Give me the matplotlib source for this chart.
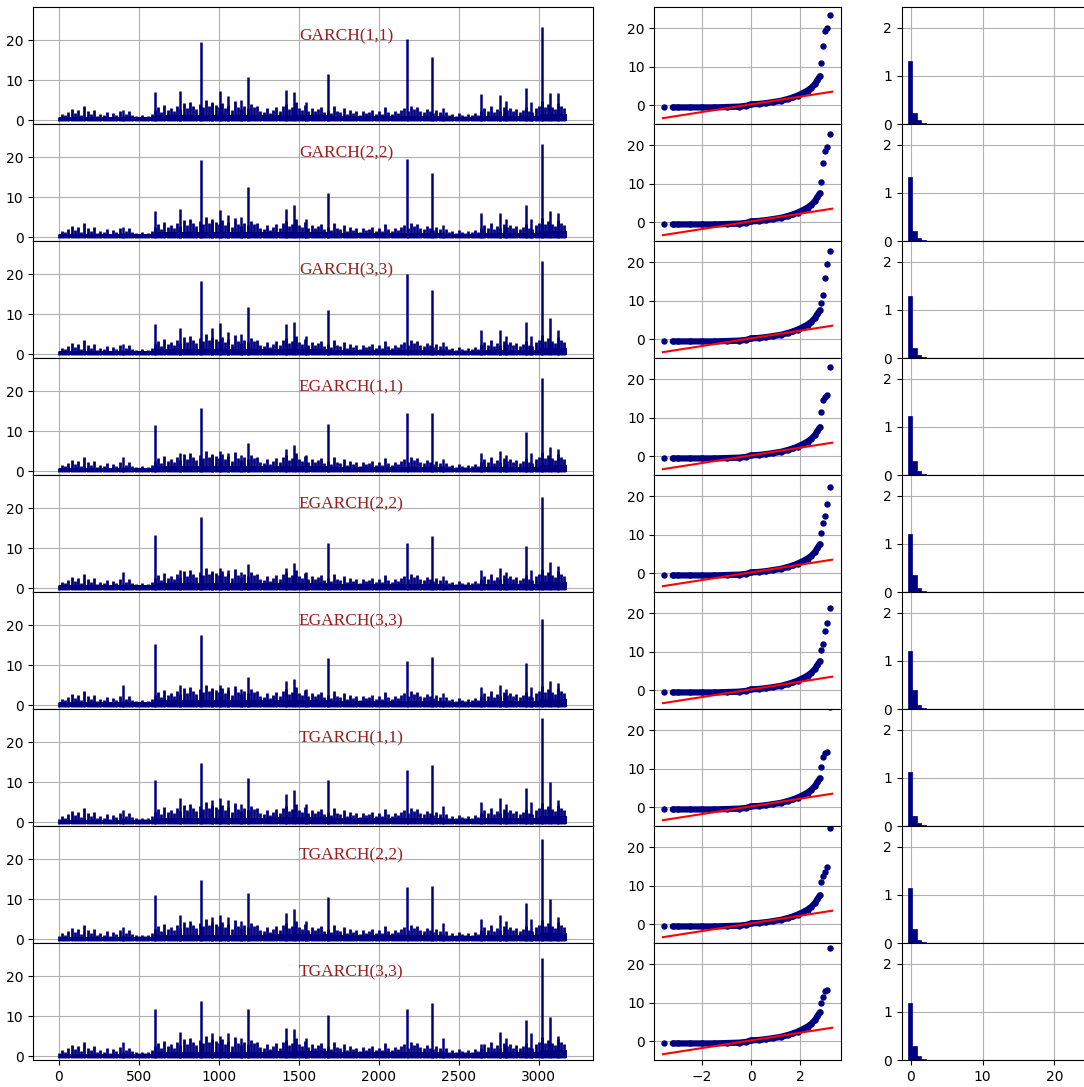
import numpy as np
import matplotlib.pyplot as plt

# nomes dos modelos (um por linha)
models = ['GARCH(1,1)', 'GARCH(2,2)', 'GARCH(3,3)',
          'EGARCH(1,1)', 'EGARCH(2,2)', 'EGARCH(3,3)',
          'TGARCH(1,1)', 'TGARCH(2,2)', 'TGARCH(3,3)']

n_obs = 3178

# ruido de fundo (pico local a cada 20 observacoes), comum a todos os modelos
minor_step = 20
minor_vals = [0.8, 1.5, 1.2, 2.0, 2.8, 1.8, 2.5, 1.4, 3.5, 2.2,
              1.5, 2.5, 1.0, 1.6, 1.2, 2.0, 0.9, 1.8, 1.3, 2.3,
              1.0, 1.6, 2.2, 1.4, 1.0, 0.8, 1.2, 0.9, 1.1, 1.5,
              2.5, 3.2, 2.0, 3.8, 2.6, 3.0, 2.2, 3.5, 2.8, 4.2,
              3.0, 4.5, 3.6, 2.8, 4.0, 3.2, 5.0, 3.5, 4.2, 3.8,
              3.2, 4.4, 3.0, 3.8, 2.6, 4.8, 3.4, 2.8, 3.6, 3.0,
              4.0, 3.2, 3.6, 2.4, 2.0, 3.0, 1.8, 2.6, 3.2, 2.2,
              3.6, 4.0, 2.8, 3.4, 4.6, 3.0, 2.6, 3.8, 2.4, 3.0,
              2.2, 2.8, 3.4, 2.0, 2.6, 1.8, 3.5, 2.4, 2.0, 3.0,
              1.6, 2.6, 1.8, 2.2, 1.4, 2.4, 1.7, 2.0, 2.6, 1.5,
              2.2, 1.6, 3.2, 2.0, 1.5, 2.4, 1.8, 2.6, 3.0, 2.2,
              3.6, 2.8, 3.2, 2.4, 2.0, 2.8, 2.2, 1.8, 2.6, 2.0,
              1.4, 2.0, 1.2, 1.6, 1.0, 1.8, 1.3, 1.0, 1.6, 1.2,
              1.8, 1.4, 2.2, 3.0, 2.4, 3.6, 2.0, 2.8, 2.2, 3.4,
              2.6, 3.0, 2.2, 2.8, 2.0, 2.6, 3.2, 2.4, 2.0, 3.0,
              3.6, 4.8, 3.2, 4.0, 3.4, 2.8, 4.2, 3.6, 3.0]

# faixa solida na base da serie
floor_idx = [0, 600, 1300, 1700, 2150, 2400, 2650, 3000, 3177]
floor_lvl = [0.7, 1.2, 1.4, 1.0, 1.1, 0.8, 1.1, 1.5, 1.5]

# picos maiores
spike_idx = [400, 602, 755, 886, 960, 1007, 1060, 1136, 1183, 1417, 1471, 1543,
             1683, 2174, 2333, 2398, 2636, 2757, 2793, 2917, 2948, 3020, 3067, 3119]
garch11 = [2.5, 7.1, 7.3, 19.5, 4.5, 7.3, 6.0, 5.0, 10.8, 7.5, 7.0, 4.5,
           11.5, 20.3, 15.9, 3.0, 6.5, 6.3, 4.8, 8.1, 4.5, 23.4, 6.9, 6.7]
garch22 = [2.5, 6.5, 7.0, 19.2, 4.5, 6.8, 5.5, 5.0, 12.5, 7.0, 8.0, 4.5,
           11.0, 19.5, 16.0, 3.0, 6.0, 6.0, 4.5, 8.0, 4.5, 23.3, 6.5, 6.0]
garch33 = [2.5, 7.5, 6.5, 18.3, 6.5, 7.7, 5.5, 5.0, 11.8, 7.5, 8.0, 4.5,
           11.0, 20.0, 16.0, 3.0, 6.0, 6.0, 4.5, 8.0, 4.5, 23.3, 9.0, 6.0]
egarch11 = [3.5, 11.5, 4.5, 15.8, 4.0, 5.0, 4.5, 4.0, 7.0, 5.5, 6.5, 4.0,
            11.8, 14.5, 14.5, 3.0, 4.5, 5.0, 4.0, 9.8, 4.5, 23.4, 6.0, 5.5]
egarch22 = [4.0, 13.3, 4.5, 17.8, 4.0, 5.0, 4.5, 4.0, 6.0, 5.0, 6.3, 4.0,
            11.3, 11.3, 13.0, 3.0, 4.5, 5.0, 4.0, 10.5, 4.5, 22.7, 6.5, 5.5]
egarch33 = [5.0, 15.3, 5.0, 17.5, 4.0, 5.0, 4.5, 4.0, 7.0, 6.0, 6.5, 4.0,
            11.7, 11.0, 12.0, 3.0, 4.5, 5.0, 4.0, 10.5, 4.5, 21.5, 6.0, 5.5]
tgarch11 = [3.0, 10.5, 6.0, 14.8, 5.5, 6.0, 5.5, 4.5, 11.0, 7.0, 8.0, 4.5,
            10.5, 13.0, 14.3, 4.0, 5.0, 6.0, 4.5, 8.5, 5.0, 26.0, 10.0, 5.5]
tgarch22 = [3.0, 11.0, 6.0, 14.8, 5.5, 6.0, 5.5, 4.5, 11.5, 6.5, 7.5, 4.5,
            10.5, 13.0, 13.3, 4.0, 5.0, 6.0, 4.5, 9.0, 5.0, 25.0, 10.0, 5.5]
tgarch33 = [3.5, 11.8, 6.0, 13.7, 5.8, 5.0, 5.8, 4.5, 11.8, 7.0, 6.8, 4.5,
            10.2, 11.9, 13.3, 4.6, 3.0, 6.0, 4.5, 9.0, 5.8, 24.6, 9.9, 5.0]
spike_rows = [garch11, garch22, garch33, egarch11, egarch22, egarch33,
              tgarch11, tgarch22, tgarch33]

# QQ plot: corpo comum + cauda de cada modelo
qq_body_x = [-3.55, -3.2, -3.0, -2.5, -2.0, -1.5, -1.0, -0.5, -0.2, 0.0, 0.3, 0.6,
             0.9, 1.2, 1.5, 1.7, 1.9, 2.1, 2.3, 2.45, 2.6, 2.7, 2.8]
qq_body_y = [-0.5, -0.6, -0.6, -0.6, -0.6, -0.6, -0.5, -0.4, -0.2, 0.2, 0.3, 0.5,
             0.8, 1.1, 1.6, 2.0, 2.5, 3.1, 3.8, 4.5, 5.5, 6.5, 7.5]
qq_tail_x = [2.85, 2.93, 3.0, 3.1, 3.2]
tail_garch11 = [11.0, 15.5, 19.3, 20.0, 23.4]
tail_garch22 = [10.5, 15.5, 18.5, 19.5, 23.0]
tail_garch33 = [9.5, 11.5, 16.0, 19.5, 23.0]
tail_egarch11 = [11.5, 14.5, 15.5, 16.0, 23.3]
tail_egarch22 = [10.5, 13.0, 15.0, 18.0, 22.5]
tail_egarch33 = [10.5, 12.0, 15.5, 17.5, 21.3]
tail_tgarch11 = [10.5, 13.0, 14.2, 14.5, 26.0]
tail_tgarch22 = [11.0, 12.5, 13.5, 15.0, 25.0]
tail_tgarch33 = [10.0, 11.6, 13.2, 13.4, 24.2]
tail_rows = [tail_garch11, tail_garch22, tail_garch33, tail_egarch11, tail_egarch22,
             tail_egarch33, tail_tgarch11, tail_tgarch22, tail_tgarch33]
qq_line_x = [-3.6, 3.3]
qq_line_y = [-3.4, 3.5]

# histogramas (densidade)
hist_edges = [-0.45, 0.15, 0.8, 1.45, 2.1, 2.75]
hist_garch11 = [1.30, 0.24, 0.08, 0.03, 0.015]
hist_garch22 = [1.33, 0.22, 0.07, 0.03, 0.015]
hist_garch33 = [1.28, 0.22, 0.07, 0.03, 0.015]
hist_egarch11 = [1.22, 0.30, 0.08, 0.03, 0.015]
hist_egarch22 = [1.20, 0.35, 0.08, 0.03, 0.015]
hist_egarch33 = [1.20, 0.40, 0.09, 0.03, 0.015]
hist_tgarch11 = [1.12, 0.22, 0.06, 0.03, 0.015]
hist_tgarch22 = [1.15, 0.30, 0.07, 0.03, 0.015]
hist_tgarch33 = [1.18, 0.30, 0.08, 0.03, 0.015]
hist_rows = [hist_garch11, hist_garch22, hist_garch33, hist_egarch11, hist_egarch22,
             hist_egarch33, hist_tgarch11, hist_tgarch22, hist_tgarch33]

navy = '#000080'
title_color = '#9b1c1c'

fig = plt.figure(figsize=(10.84, 10.87), dpi=100)

top = 0.9933
row_h = 0.10764
minor_x = np.arange(len(minor_vals)) * minor_step
edges = np.array(hist_edges)

for i, name in enumerate(models):
    y0 = top - (i + 1) * row_h
    last = (i == len(models) - 1)

    # --- serie temporal ---
    ax1 = fig.add_axes([0.0307, y0, 0.516, row_h])
    ax1.fill_between(floor_idx, -0.3, floor_lvl, step='post', color=navy, lw=0)
    ax1.vlines(minor_x, -0.3, minor_vals, color=navy, lw=2.0)
    ax1.vlines(spike_idx, -0.3, spike_rows[i], color=navy, lw=1.8)
    ax1.set_xlim(-159, 3336)
    ax1.set_ylim(-1.0, 28.2)
    ax1.set_xticks(range(0, 3001, 500))
    ax1.set_yticks([0, 10, 20])
    ax1.grid(True, color='#b0b0b0', lw=0.8)
    ax1.set_axisbelow(True)
    ax1.text(1500, 20, name, color=title_color, fontsize=12.5,
             family='Liberation Serif', va='baseline', ha='left')
    if not last:
        ax1.tick_params(labelbottom=False)

    # --- QQ plot ---
    ax2 = fig.add_axes([0.6036, y0, 0.172, row_h])
    ax2.plot(qq_body_x[1:], qq_body_y[1:], color=navy, lw=4.5, marker='o', ms=3.6,
             solid_capstyle='round')
    ax2.plot(qq_body_x[:1], qq_body_y[:1], 'o', color=navy, ms=3.6)
    ax2.plot(qq_tail_x, tail_rows[i], 'o', color=navy, ms=3.6)
    ax2.plot(qq_line_x, qq_line_y, color='red', lw=1.5)
    ax2.set_xlim(-3.95, 3.65)
    ax2.set_ylim(-5, 25.5)
    ax2.set_xticks([-2, 0, 2])
    ax2.set_yticks([0, 10, 20])
    ax2.grid(True, color='#b0b0b0', lw=0.8)
    ax2.set_axisbelow(True)
    if not last:
        ax2.tick_params(labelbottom=False)

    # --- histograma ---
    ax3 = fig.add_axes([0.8318, y0, 0.189, row_h])
    ax3.bar(edges[:-1], hist_rows[i], width=np.diff(edges), align='edge',
            color=navy, edgecolor=navy, lw=0.5)
    ax3.set_xlim(-1.3, 27.3)
    ax3.set_ylim(0, 2.42)
    ax3.set_xticks([0, 10, 20])
    ax3.set_yticks([0, 1, 2])
    ax3.grid(True, color='#b0b0b0', lw=0.8)
    ax3.set_axisbelow(True)
    if not last:
        ax3.tick_params(labelbottom=False)

for ax in fig.axes:
    ax.tick_params(labelsize=10)

plt.savefig('out.png', dpi=100)
plt.close()
